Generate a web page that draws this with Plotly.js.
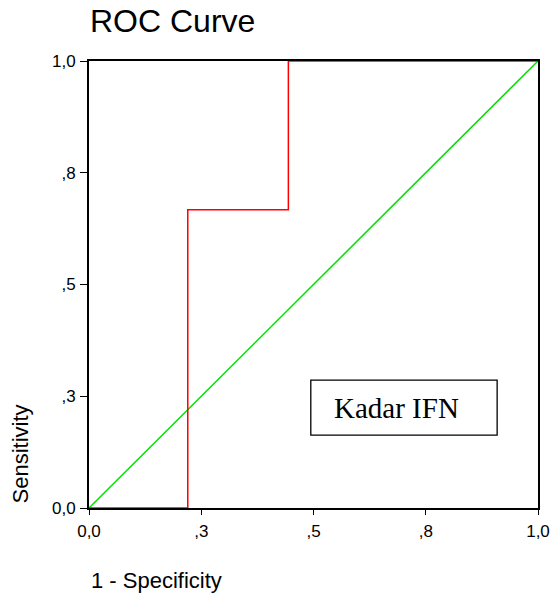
<!DOCTYPE html>
<html>
<head>
<meta charset="utf-8">
<script src="https://cdn.plot.ly/plotly-3.0.1.min.js"></script>
<style>html,body{margin:0;padding:0;background:#fff;}#chart{width:551px;height:598px;}</style>
</head>
<body>
<div id="chart"></div>
<script>
// ROC step curve (1 - Specificity, Sensitivity)
var rocX = [0, 0.22, 0.22, 0.444, 0.444, 1.0];
var rocY = [0, 0, 0.667, 0.667, 1.0, 1.0];
// Reference diagonal
var refX = [0, 1];
var refY = [0, 1];
// Tick values and labels
var tickVals = [0, 0.25, 0.5, 0.75, 1.0];
var tickText = ['0,0', ',3', ',5', ',8', '1,0'];
var legendLabel = 'Kadar IFN';

var traces = [
  {x: refX, y: refY, mode: 'lines', line: {color: '#00e000', width: 1.5}, hoverinfo: 'skip'},
  {x: rocX, y: rocY, mode: 'lines', line: {color: '#ff0000', width: 1.5, shape: 'linear'}, hoverinfo: 'skip'}
];

var axisCommon = {
  range: [0, 1],
  tickvals: tickVals,
  ticktext: tickText,
  ticks: 'outside',
  tickwidth: 1,
  tickcolor: '#000',
  showline: true,
  linecolor: '#000',
  linewidth: 2,
  mirror: true,
  showgrid: false,
  zeroline: false,
  layer: 'below traces',
  tickfont: {family: 'Liberation Sans, Arial, sans-serif', size: 17, color: '#000'},
  fixedrange: true
};

var layout = {
  width: 551,
  height: 598,
  margin: {l: 89, r: 13, t: 61, b: 90, pad: 0},
  paper_bgcolor: '#fff',
  plot_bgcolor: '#fff',
  showlegend: false,
  xaxis: Object.assign({}, axisCommon, {ticklen: 5, ticklabelstandoff: 2}),
  yaxis: Object.assign({}, axisCommon, {ticklen: 7, ticklabelstandoff: 1}),
  shapes: [
    {type: 'rect', xref: 'paper', yref: 'paper', x0: 0.494, x1: 0.909, y0: 0.163, y1: 0.286,
     line: {color: '#000', width: 1.3}, fillcolor: 'rgba(0,0,0,0)'}
  ],
  annotations: [
    {text: 'ROC Curve', xref: 'paper', yref: 'paper', x: 0, y: 1, xanchor: 'left', yanchor: 'bottom',
     yshift: 20, xshift: -1, showarrow: false,
     font: {family: 'Liberation Sans, Arial, sans-serif', size: 32, color: '#000'}},
    {text: '1 - Specificity', xref: 'paper', yref: 'paper', x: 0, y: 0, xanchor: 'left', yanchor: 'top',
     yshift: -58, showarrow: false,
     font: {family: 'Liberation Sans, Arial, sans-serif', size: 22, color: '#000'}},
    {text: 'Sensitivity', xref: 'paper', yref: 'paper', x: 0, y: 0, xanchor: 'center', yanchor: 'bottom',
     xshift: -69, yshift: 2, textangle: -90, showarrow: false,
     font: {family: 'Liberation Sans, Arial, sans-serif', size: 22, color: '#000'}},
    {text: legendLabel, xref: 'paper', yref: 'paper', x: 0.541, y: 0.224, xanchor: 'left', yanchor: 'middle',
     showarrow: false,
     font: {family: 'Liberation Serif, Times New Roman, serif', size: 29, color: '#000'}}
  ]
};

Plotly.newPlot('chart', traces, layout, {staticPlot: true, displayModeBar: false});
</script>
</body>
</html>
